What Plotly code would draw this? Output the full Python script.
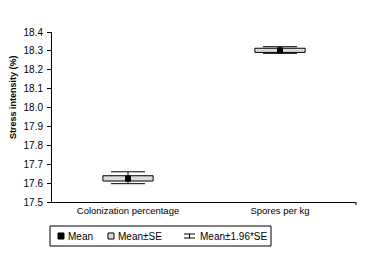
import plotly.graph_objects as go

categories = ["Colonization percentage", "Spores per kg"]
means = [17.624, 18.303]
se_low = [17.611, 18.292]
se_high = [17.639, 18.314]
ci_low = [17.597, 18.287]
ci_high = [17.660, 18.322]
y_ticks = [17.5, 17.6, 17.7, 17.8, 17.9, 18.0, 18.1, 18.2, 18.3, 18.4]

FONT = "Liberation Sans Narrow, Arial Narrow, Liberation Sans, Arial, sans-serif"
OFF = 8  # page body margin
W, H = 365 - OFF, 253 - OFF
L, R, T, B = 44, 9, 24, 51
PW, PH = W - L - R, H - T - B


def px_x(p):
    return (p - OFF - L) / PW


def px_y(p):
    return (H - B - (p - OFF)) / PH


fig = go.Figure()
fig.add_trace(go.Bar(
    x=categories,
    y=[h - l for h, l in zip(se_high, se_low)],
    base=se_low,
    width=0.33,
    marker=dict(color="#dcdcdc", line=dict(color="black", width=1)),
    showlegend=False,
))
fig.add_trace(go.Scatter(
    x=categories, y=means, mode="markers",
    marker=dict(symbol="square", size=6, color="black"),
    error_y=dict(type="data", symmetric=False,
                 array=[h - m for h, m in zip(ci_high, means)],
                 arrayminus=[m - l for m, l in zip(means, ci_low)],
                 color="black", thickness=1, width=17),
    showlegend=False,
))

shapes = []
annotations = []
# end tick on x axis
shapes.append(dict(type="line", xref="paper", yref="paper",
                   x0=1, x1=1, y0=0, y1=px_y(205), line=dict(color="black", width=1)))
# legend box
shapes.append(dict(type="rect", xref="paper", yref="paper",
                   x0=px_x(50), x1=px_x(271), y0=px_y(246), y1=px_y(226),
                   line=dict(color="black", width=1), fillcolor="white"))
cy = 236
shapes.append(dict(type="rect", xref="paper", yref="paper",
                   x0=px_x(58), x1=px_x(64), y0=px_y(cy + 3), y1=px_y(cy - 3),
                   line=dict(color="black", width=1), fillcolor="black"))
shapes.append(dict(type="rect", xref="paper", yref="paper",
                   x0=px_x(108), x1=px_x(114), y0=px_y(cy + 3), y1=px_y(cy - 3),
                   line=dict(color="black", width=1), fillcolor="#dcdcdc"))
for yy in (cy - 2, cy + 2):
    shapes.append(dict(type="line", xref="paper", yref="paper",
                       x0=px_x(184), x1=px_x(195), y0=px_y(yy), y1=px_y(yy),
                       line=dict(color="black", width=1)))
shapes.append(dict(type="line", xref="paper", yref="paper",
                   x0=px_x(189.5), x1=px_x(189.5), y0=px_y(cy - 2), y1=px_y(cy + 2),
                   line=dict(color="black", width=1)))
for xx, txt in [(66, "Mean"), (116, "Mean±SE"), (198, "Mean±1.96*SE")]:
    annotations.append(dict(xref="paper", yref="paper", x=px_x(xx), y=px_y(cy),
                            text=txt, showarrow=False, xanchor="left", yanchor="middle",
                            font=dict(family=FONT, size=10, color="black")))
annotations.append(dict(xref="paper", yref="paper", x=px_x(13), y=px_y(97),
                        text="<b>Stress intensity (%)</b>", textangle=-90, showarrow=False,
                        xanchor="center", yanchor="middle",
                        font=dict(family=FONT, size=9, color="black")))

fig.update_layout(
    width=W, height=H,
    margin=dict(l=L, r=R, t=T, b=B),
    paper_bgcolor="white", plot_bgcolor="white",
    font=dict(family=FONT, size=10, color="black"),
    shapes=shapes, annotations=annotations,
    showlegend=False,
    xaxis=dict(type="category", range=[-0.5, 1.5], showline=True, linecolor="black",
               linewidth=1, ticks="", showgrid=False, zeroline=False,
               tickfont=dict(family=FONT, size=9.5, color="black")),
    yaxis=dict(range=[17.5, 18.4], tickvals=y_ticks,
               ticktext=[f"{v:.1f}" for v in y_ticks], showline=True,
               linecolor="black", linewidth=1, ticks="outside", ticklen=4,
               tickcolor="black", showgrid=False, zeroline=False,
               ticklabelstandoff=2,
               tickfont=dict(family=FONT, size=10, color="black")),
)
fig.write_html("out.html")
